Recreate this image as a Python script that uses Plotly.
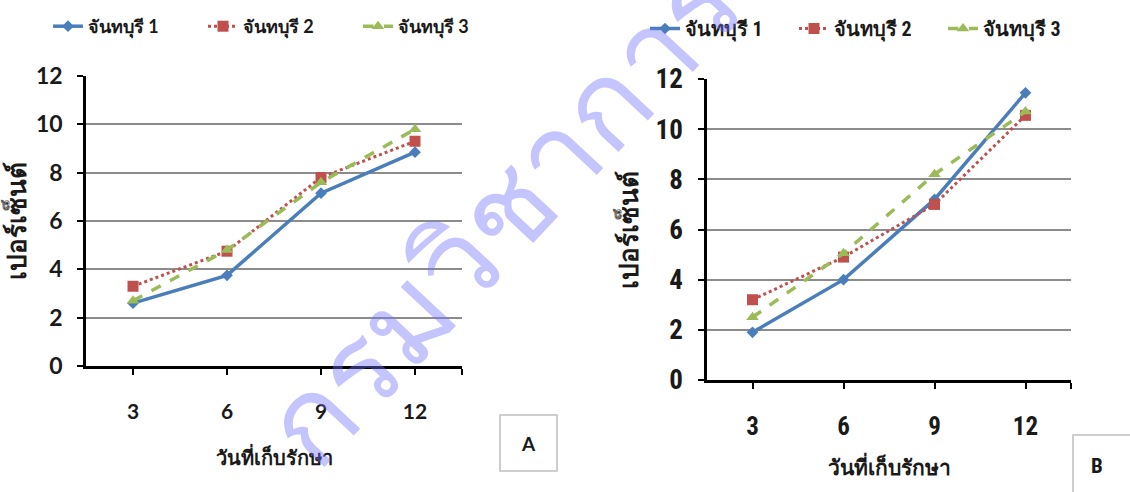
import plotly.graph_objects as go

W, H = 1130, 492

days = [3, 6, 9, 12]
tick_vals = [3, 6, 9, 12, 13.5]
tick_text = ["3", "6", "9", "12", ""]
y_ticks = [0, 2, 4, 6, 8, 10, 12]

series_names = ["จันทบุรี 1", "จันทบุรี 2", "จันทบุรี 3"]
a_s1 = [2.6, 3.75, 7.15, 8.85]
a_s2 = [3.3, 4.75, 7.8, 9.3]
a_s3 = [2.7, 4.8, 7.6, 9.8]
b_s1 = [1.9, 4.0, 7.2, 11.45]
b_s2 = [3.2, 4.9, 7.0, 10.55]
b_s3 = [2.5, 5.05, 8.2, 10.7]

y_title = "เปอร์เซ็นต์"
x_title = "วันที่เก็บรักษา"
watermark = "กรมวิชาการเกษตร"

colors = ["#4A7EBB", "#C0504D", "#9BBB59"]
dashes = ["solid", "dot", "dash"]
symbols = ["diamond", "square", "triangle-up"]
msizes = [9, 11, 11]
widths = [3.5, 3, 3.5]

FONT_A = "Lato, 'Noto Sans', sans-serif"
FONT_B = "'Liberation Sans Narrow', 'Arial Narrow', 'Roboto Condensed', Lato, sans-serif"
TXT = "#1a1a1a"

def f(size, family):
    return dict(size=size, family=family, color=TXT, weight="bold")

fig = go.Figure()

for data, xa, ya, leg in [
    ([a_s1, a_s2, a_s3], "x", "y", "legend"),
    ([b_s1, b_s2, b_s3], "x2", "y2", "legend2"),
]:
    for i, vals in enumerate(data):
        fig.add_trace(go.Scatter(
            x=days, y=vals, xaxis=xa, yaxis=ya, name=series_names[i],
            mode="lines+markers", legend=leg,
            line=dict(color=colors[i], width=widths[i], dash=dashes[i]),
            marker=dict(symbol=symbols[i], size=msizes[i], color=colors[i]),
        ))

def px_x(p):
    return p / W

def px_y(p):
    return 1 - p / H

axis_common = dict(
    showline=True, linecolor="black", linewidth=2.5,
    ticks="outside", ticklen=6, tickwidth=2, tickcolor="black",
    zeroline=False, automargin=False,
)

fig.update_layout(
    width=W, height=H, margin=dict(l=0, r=0, t=0, b=0),
    paper_bgcolor="white", plot_bgcolor="white",
    font=dict(family=FONT_A, color=TXT),
    xaxis=dict(domain=[px_x(86), px_x(462)], anchor="y", range=[1.5, 13.5],
               tickvals=tick_vals, ticktext=tick_text, showgrid=False,
               tickfont=f(21, FONT_A), ticklabelstandoff=19,
               title=dict(text=x_title, font=f(20, FONT_A), standoff=30), **axis_common),
    yaxis=dict(domain=[px_y(366), px_y(76)], anchor="x", range=[0, 12],
               tickvals=y_ticks, showgrid=True, gridcolor="#8c8c8c", gridwidth=1.5,
               tickfont=f(23, FONT_A), ticklabelstandoff=10,
               title=dict(text=y_title, font=f(26, FONT_A), standoff=2), **axis_common),
    xaxis2=dict(domain=[px_x(707), px_x(1071)], anchor="y2", range=[1.5, 13.5],
                tickvals=tick_vals, ticktext=tick_text, showgrid=False,
                tickfont=f(25, FONT_B), ticklabelstandoff=16,
                title=dict(text=x_title, font=f(21, FONT_B), standoff=21), **axis_common),
    yaxis2=dict(domain=[px_y(380), px_y(79)], anchor="x2", range=[0, 12],
                tickvals=y_ticks, showgrid=True, gridcolor="#8c8c8c", gridwidth=1.5,
                tickfont=f(27, FONT_B), ticklabelstandoff=10,
                title=dict(text=y_title, font=f(26, FONT_B), standoff=10), **axis_common),
    legend=dict(orientation="h", x=px_x(48), y=px_y(8), xanchor="left", yanchor="top",
                font=f(18, FONT_A), entrywidth=110, entrywidthmode="pixels",
                bgcolor="rgba(0,0,0,0)"),
    legend2=dict(orientation="h", x=px_x(645), y=px_y(9), xanchor="left", yanchor="top",
                 font=f(20, FONT_B), entrywidth=104, entrywidthmode="pixels",
                 bgcolor="rgba(0,0,0,0)"),
)

# panel label boxes
fig.add_shape(type="rect", xref="paper", yref="paper",
              x0=px_x(500), x1=px_x(557), y0=px_y(471), y1=px_y(415),
              line=dict(color="#bfbfbf", width=1.5), fillcolor="white")
fig.add_annotation(text="A", xref="paper", yref="paper", x=px_x(528), y=px_y(443),
                   xanchor="center", yanchor="middle",
                   showarrow=False, font=f(19, FONT_A))
fig.add_shape(type="rect", xref="paper", yref="paper",
              x0=px_x(1073), x1=px_x(1140), y0=px_y(500), y1=px_y(435),
              line=dict(color="#bfbfbf", width=1.5), fillcolor="white")
fig.add_annotation(text="B", xref="paper", yref="paper", x=px_x(1097), y=px_y(466),
                   xanchor="center", yanchor="middle",
                   showarrow=False, font=f(21, FONT_B))

# watermark
fig.add_annotation(text=watermark, xref="paper", yref="paper",
                   x=px_x(614), y=px_y(89), xanchor="center", yanchor="middle",
                   showarrow=False, textangle=-47,
                   font=dict(size=120, color="rgba(115,115,255,0.42)", family=FONT_A))

fig.write_html("out.html")
